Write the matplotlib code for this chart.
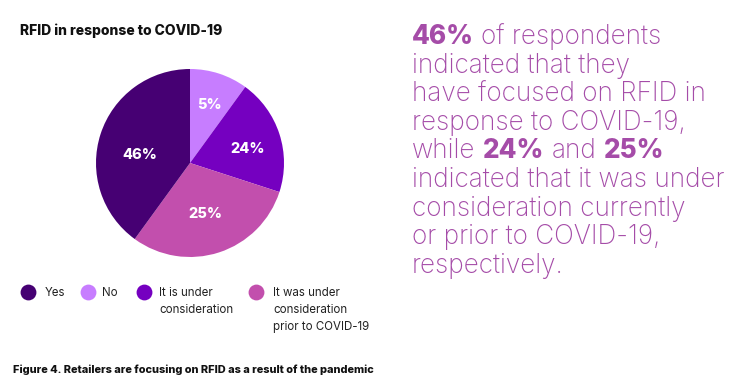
import matplotlib
matplotlib.use("Agg")
import matplotlib.pyplot as plt
import numpy as np

# ---- data ----
categories = ["Yes", "No", "It is under\nconsideration", "It was under\nconsideration\nprior to COVID-19"]
slice_shares = [40, 10, 20, 30]          # slice sizes as drawn in the reference
pct_labels = ["46%", "5%", "24%", "25%"]  # labels printed on the slices
colors = ["#460073", "#c77dff", "#7500c0", "#c24fad"]
draw_order = [1, 2, 3, 0]                 # clockwise from 12 o'clock

title = "RFID in response to COVID-19"
caption = "Figure 4. Retailers are focusing on RFID as a result of the pandemic"
side_lines = [
    [("46%", True), (" of respondents", False)],
    [("indicated that they", False)],
    [("have focused on RFID in", False)],
    [("response to COVID-19,", False)],
    [("while ", False), ("24%", True), (" and ", False), ("25%", True)],
    [("indicated that it was under", False)],
    [("consideration currently", False)],
    [("or prior to COVID-19,", False)],
    [("respectively.", False)],
]
side_color = "#a54ca8"

# label placement (style): radius fraction and angle offset from wedge mid-angle
label_radius = [0.54, 0.66, 0.63, 0.555]
label_angle_off = [6.7, 0.0, -3.3, -1.3]

W, H = 752, 392
fig = plt.figure(figsize=(W / 100, H / 100), dpi=100)
fig.patch.set_facecolor("white")

ov = fig.add_axes([0, 0, 1, 1])
ov.set_xlim(0, W)
ov.set_ylim(H, 0)
ov.axis("off")

# pie
cx, cy, r = 190, 163, 94
pax = fig.add_axes([(cx - r) / W, (H - cy - r) / H, 2 * r / W, 2 * r / H])
wedges, _ = pax.pie([slice_shares[i] for i in draw_order],
                    colors=[colors[i] for i in draw_order],
                    startangle=90, counterclock=False,
                    radius=1.0, wedgeprops=dict(linewidth=0))
pax.set_xlim(-1, 1)
pax.set_ylim(-1, 1)
pax.set_aspect("equal")
pax.axis("off")
for w, i in zip(wedges, draw_order):
    ang = np.deg2rad((w.theta1 + w.theta2) / 2 + label_angle_off[i])
    rd = label_radius[i]
    pax.text(rd * np.cos(ang), rd * np.sin(ang), pct_labels[i], color="white",
             fontsize=10.5, fontweight="heavy", ha="center", va="center_baseline",
             family="Inter")

# title
ov.text(20, 31, title, fontsize=10, fontweight="heavy", ha="left", va="center",
        family="Inter", color="#111111")

# legend
marker_x = [27.5, 87.5, 144, 256]
text_x = [45, 102, 159, 273]
for mx, tx, c, lab in zip(marker_x, text_x, colors, categories):
    ov.scatter([mx], [292], s=130, color=c, zorder=3, linewidths=0)
    ov.text(tx, 286.5, lab, fontsize=8.3, ha="left", va="top", family="Inter",
            color="#222222", linespacing=1.58)

# caption
ov.text(13, 370, caption, fontsize=7.9, fontweight="heavy", ha="left", va="center",
        family="Inter", color="#111111")

# side text with mixed weights
fig.canvas.draw()
renderer = fig.canvas.get_renderer()

def seg_width(s, weight, size, fam):
    t = ov.text(0, 0, s, fontsize=size, fontweight=weight, family=fam)
    w = t.get_window_extent(renderer).width
    t.remove()
    return w

fs = 18.8
fam = "Inter"
x0, y0, dy = 412, 37, 28.6
for i, line in enumerate(side_lines):
    x = x0
    y = y0 + i * dy
    for seg, bold in line:
        weight = "heavy" if bold else "light"
        lead = len(seg) - len(seg.lstrip(" "))
        trail = len(seg) - len(seg.rstrip(" "))
        core = seg.strip(" ")
        sp = seg_width("x x", "light", fs, fam) - seg_width("xx", "light", fs, fam)
        x += lead * sp
        t = ov.text(x, y, core, fontsize=fs, fontweight=weight, family=fam,
                    color=side_color, ha="left", va="center")
        x += t.get_window_extent(renderer).width * (W / fig.bbox.width)
        x += trail * sp

fig.savefig("out.png", dpi=100, facecolor="white")
